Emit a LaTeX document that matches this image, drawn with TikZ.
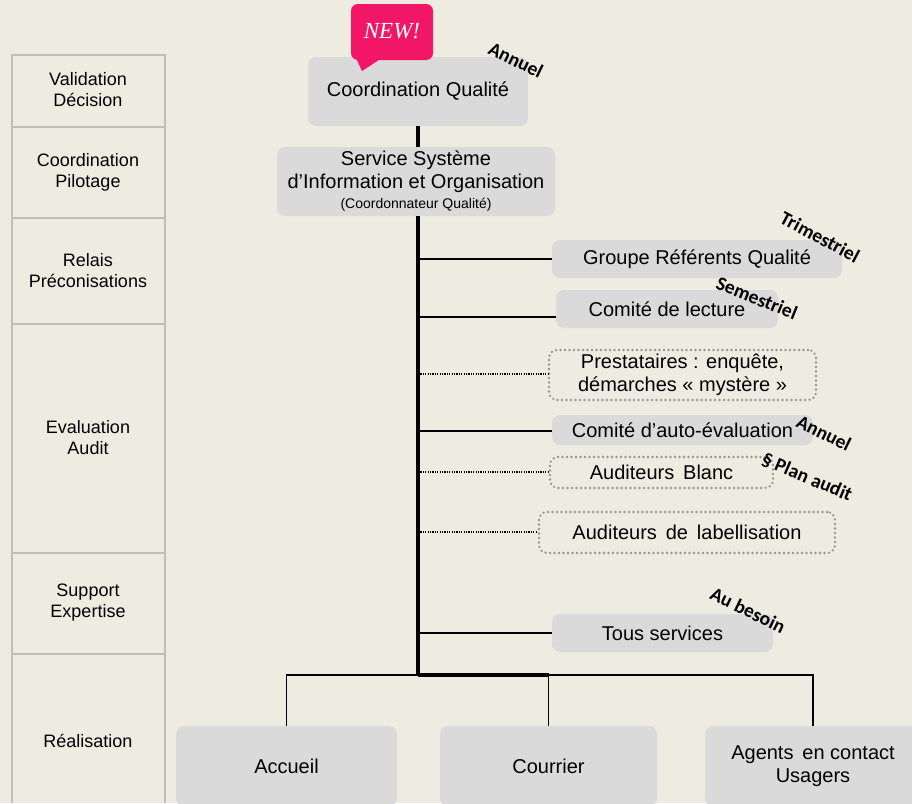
\documentclass[tikz,border=0pt]{standalone}
\usepackage{fontspec}
\setmainfont{Liberation Sans}
\newfontfamily\calib{Carlito}
\newfontfamily\newsfont{Liberation Serif}
\definecolor{bgc}{RGB}{238,235,225}
\definecolor{boxc}{RGB}{218,218,218}
\definecolor{gridc}{RGB}{192,190,184}
\definecolor{dotc}{RGB}{150,150,150}
\definecolor{newpink}{RGB}{242,22,102}
\tikzset{
  box/.style={fill=boxc, rounded corners=8pt, draw=none, inner sep=0pt, align=center, font=\fontsize{20}{23}\selectfont},
  dbox/.style={draw=dotc, line width=2.6pt, dash pattern=on 0pt off 4.5pt, line cap=round, rounded corners=8pt, inner sep=0pt, align=center, font=\fontsize{20}{23}\selectfont},
  rowlab/.style={align=center, font=\fontsize{18}{21}\selectfont, inner sep=0pt},
  freq/.style={font=\calib\bfseries\fontsize{19.5}{21}\selectfont, inner sep=0pt},
  thinline/.style={line width=1.6pt, black},
  thickline/.style={line width=3.4pt, black},
  dotline/.style={line width=1.3pt, black, dash pattern=on 1.2pt off 1.2pt},
  grid/.style={line width=1.2pt, gridc}
}
\begin{document}
\begin{tikzpicture}[x=1pt,y=-1pt]
\useasboundingbox (0,0) rectangle (912,803);
\fill[bgc] (0,0) rectangle (912,803);
\begin{scope}
\clip (0,0) rectangle (912,803);
% left column
\draw[grid] (12,803) -- (12,55) -- (165,55) -- (165,803);
\foreach \yy in {127,218,324,553,654} \draw[grid] (12,\yy) -- (165,\yy);
\node[rowlab] (r1) at (88,90) {Validation\\Décision};
\node[rowlab] (r2) at (88,172) {Coordination\\Pilotage};
\node[rowlab] (r3) at (88,271) {Relais\\Préconisations};
\node[rowlab] (r4) at (88,438) {Evaluation\\Audit};
\node[rowlab] (r5) at (88,603) {Support\\Expertise};
\node[rowlab] (r6) at (88,741) {Réalisation};

% boxes
\node[box, minimum width=220pt, minimum height=69pt] (cq) at (418,91.5) {Coordination Qualité};
\node[box, minimum width=278pt, minimum height=69pt] (ssio) at (416,181.5) {Service Système\\d’Information et Organisation\\[-3pt]{\fontsize{14}{16}\selectfont(Coordonnateur Qualité)}};
\node[box, minimum width=290pt, minimum height=38pt] (grq) at (697,259) {Groupe Référents Qualité};
\node[box, minimum width=222pt, minimum height=38pt] (cl) at (667,309) {Comité de lecture};
\node[dbox, minimum width=267pt, minimum height=50pt] (pr) at (682.5,375) {Prestataires : enquête,\\démarches « mystère »};
\node[box, minimum width=261pt, minimum height=30pt] (cae) at (682.5,430) {Comité d’auto-évaluation};
\node[dbox, minimum width=223pt, minimum height=31pt] (ab) at (661.5,472.5) {Auditeurs\, Blanc};
\node[dbox, minimum width=296pt, minimum height=41pt] (al) at (687,532.5) {Auditeurs\, de\, labellisation};
\node[box, minimum width=221pt, minimum height=38pt] (ts) at (662.5,633) {Tous services};
\node[box, minimum width=221pt, minimum height=80pt] (acc) at (286.5,766) {Accueil};
\node[box, minimum width=217pt, minimum height=80pt] (cou) at (548.5,766) {Courrier};
\node[box, minimum width=216pt, minimum height=80pt] (agt) at (813,766) {Agents\, en contact\\Usagers};

% NEW bubble
\fill[newpink, rounded corners=7pt] (351,4) rectangle (433,60);
\fill[newpink] (355,56) -- (362,71) -- (385,56) -- cycle;
\node[text=white, font=\newsfont\itshape\fontsize{23}{25}\selectfont, inner sep=0pt] (new) at (392,31) {NEW!};

% frequency labels
\node[freq, rotate=-26] (f1) at (516,60) {Annuel};
\node[freq, rotate=-28] (f2) at (820,237) {Trimestriel};
\node[freq, rotate=-22] (f3) at (757,298) {Semestriel};
\node[freq, rotate=-26] (f4) at (824,433) {Annuel};
\node[freq, rotate=-23] (f5) at (807,477) {§ Plan audit};
\node[freq, rotate=-26] (f6) at (748,610) {Au besoin};

% connectors
\draw[thickline] (cq.south) -- (cq.south |- ssio.north);
\coordinate (top) at (418,216);
\coordinate (hub) at (418,675);
\draw[thickline] (top) -- (hub);
\coordinate (s1) at (418,259);
\coordinate (s2) at (418,317);
\coordinate (s3) at (418,374);
\coordinate (s4) at (418,431);
\coordinate (s5) at (418,472);
\coordinate (s6) at (418,532);
\coordinate (s7) at (418,633);
\draw[thinline] (s1) -- (s1 -| grq.west);
\draw[thinline] (s2) -- (s2 -| cl.west);
\draw[dotline] (s3) -- (s3 -| pr.west);
\draw[thinline] (s4) -- (s4 -| cae.west);
\draw[dotline] (s5) -- (s5 -| ab.west);
\draw[dotline] (s6) -- (s6 -| al.west);
\draw[thinline] (s7) -- (s7 -| ts.west);
\draw[thinline] (acc.north) |- (hub);
\draw[thickline] (hub) -- (cou.north |- hub);
\draw[thinline] (cou.north |- hub) -- (cou.north);
\draw[thinline] (cou.north |- hub) -| (agt.north);
\end{scope}
\end{tikzpicture}
\end{document}
